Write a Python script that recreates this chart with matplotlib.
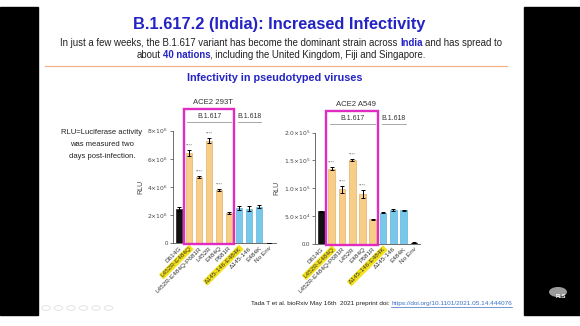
import numpy as np
import matplotlib
matplotlib.use("Agg")
import matplotlib.pyplot as plt
import matplotlib.transforms as mtransforms
from matplotlib.patches import Rectangle, Circle

plt.rcParams['font.family'] = ['Liberation Sans', 'DejaVu Sans']

W, H = 580, 326

variants = ['D614G', 'L452R-E484Q', 'L452R-E484Q-P681R', 'L452R', 'E484Q', 'P681R',
            'Δ145-146-E484K', 'Δ145-146', 'E484K', 'No Env']
highlighted = ['L452R-E484Q', 'Δ145-146-E484K']
lineage = ['ref', 'B.1.617', 'B.1.617', 'B.1.617', 'B.1.617', 'B.1.617',
           'B.1.618', 'B.1.618', 'B.1.618', 'ref']
stars = ['', '****', '****', '****', '****', '', '', '', '', '']

rlu_293t = [2.43e6, 6.4e6, 4.7e6, 7.3e6, 3.8e6, 2.15e6, 2.5e6, 2.45e6, 2.6e6, 0.03e6]
err_293t = [0.15e6, 0.22e6, 0.06e6, 0.15e6, 0.08e6, 0.05e6, 0.16e6, 0.16e6, 0.12e6, 0.0]

rlu_a549 = [5.85e4, 1.35e5, 0.98e5, 1.51e5, 0.89e5, 0.44e5, 0.56e5, 0.61e5, 0.60e5, 0.2e4]
err_a549 = [1.0e3, 2.5e3, 6.0e3, 2.5e3, 7.0e3, 1.0e3, 1.5e3, 1.5e3, 1.0e3, 0.8e3]

yt_293t = [0, 2e6, 4e6, 6e6, 8e6]
yl_293t = ['0', r'$2{\times}10^6$', r'$4{\times}10^6$', r'$6{\times}10^6$', r'$8{\times}10^6$']
yt_a549 = [0, 5e4, 1e5, 1.5e5, 2e5]
yl_a549 = ['0.0', r'$5.0{\times}10^4$', r'$1.0{\times}10^5$', r'$1.5{\times}10^5$', r'$2.0{\times}10^5$']

colors = {'ref': '#111111', 'B.1.617': '#f8cd88', 'B.1.618': '#78c8ec'}
edges = {'ref': '#000000', 'B.1.617': '#d9a550', 'B.1.618': '#4aa6d0'}
blue = '#2424c4'
magenta = '#e02cc0'


def box(l, t, r, b):
    return [l / W, 1 - b / H, (r - l) / W, (b - t) / H]


def fx(x):
    return x / W


def fy(y):
    return 1 - y / H


fig = plt.figure(figsize=(W / 100, H / 100), dpi=100)
fig.patch.set_facecolor('white')

# bordas pretas da captura de tela
fig.patches.append(Rectangle((0, fy(315)), fx(38), fy(7) - fy(315), transform=fig.transFigure,
                             color='black', zorder=0))
fig.patches.append(Rectangle((fx(524), fy(315)), 1 - fx(524), fy(7) - fy(315),
                             transform=fig.transFigure, color='black', zorder=0))

renderer = fig.canvas.get_renderer()


def rich_line(parts, xc, y, size):
    # parts: (texto, negrito, cor)
    probe = fig.text(0, 0, 'a a', fontsize=size)
    w2 = probe.get_window_extent(renderer).width
    probe.set_text('aa')
    space = w2 - probe.get_window_extent(renderer).width
    probe.remove()
    items = []
    total = 0
    for txt, bold, col in parts:
        lead = len(txt) - len(txt.lstrip(' '))
        trail = len(txt) - len(txt.rstrip(' '))
        t = fig.text(0, fy(y), txt.strip(' '), fontsize=size, color=col,
                     fontweight='bold' if bold else 'normal', va='center', ha='left')
        w = t.get_window_extent(renderer).width
        items.append((t, lead * space, w, trail * space))
        total += lead * space + w + trail * space
    x = xc - total / 2
    for t, lead, w, trail in items:
        x += lead
        t.set_x(fx(x))
        x += w + trail


fig.text(fx(279), fy(25), 'B.1.617.2 (India): Increased Infectivity', fontsize=11.8,
         fontweight='bold', color=blue, ha='center', va='center')
rich_line([('In just a few weeks, the B.1.617 variant has become the dominant strain across ', False, '#222222'),
           ('India', True, blue),
           (' and has spread to', False, '#222222')], 281, 43.5, 6.9)
rich_line([('about ', False, '#222222'), ('40 nations', True, blue),
           (', including the United Kingdom, Fiji and Singapore.', False, '#222222')], 281, 55, 6.9)
fig.add_artist(plt.Line2D([fx(45), fx(507)], [fy(66), fy(66)], color='#f4b48a', lw=0.9))
fig.text(fx(275), fy(78), 'Infectivity in pseudotyped viruses', fontsize=7.8,
         fontweight='bold', color=blue, ha='center', va='center')

for i, line in enumerate(['RLU=Luciferase activity', 'was measured two', 'days post-infection.']):
    fig.text(fx(102), fy(132.5 + 12.2 * i), line, fontsize=5.5, color='#222222',
             ha='center', va='center')


def draw_panel(rect, xlim, values, errs, yt, yl, title):
    ax = fig.add_axes(rect)
    x = np.arange(len(variants))
    cols = [colors[g] for g in lineage]
    eds = [edges[g] for g in lineage]
    ax.bar(x, values, width=0.65, color=cols, edgecolor=eds, linewidth=0.4, zorder=2)
    ax.errorbar(x, values, yerr=errs, fmt='none', ecolor='black', elinewidth=0.7,
                capsize=1.6, capthick=0.7, zorder=3)
    for i, s in enumerate(stars):
        if s:
            ax.text(x[i], values[i] + errs[i] + yt[-1] * 0.02, s, ha='center', va='bottom',
                    fontsize=3.2, color='#666666')
    ax.set_xlim(*xlim)
    ax.set_ylim(0, yt[-1])
    ax.set_yticks(yt)
    ax.set_yticklabels(yl, fontsize=4.3, color='#444444')
    ax.set_xticks(x)
    ax.set_xticklabels(variants, rotation=45, ha='right', rotation_mode='anchor',
                       fontsize=4.6, color='#333333')
    for lab in ax.get_xticklabels():
        if lab.get_text() in highlighted:
            lab.set_bbox(dict(facecolor='#f5e21a', edgecolor='none', pad=0.6))
    ax.tick_params(axis='x', length=0, pad=2)
    ax.tick_params(axis='y', length=2, width=0.5, pad=1.5, colors='#444444')
    for sp in ['top', 'right']:
        ax.spines[sp].set_visible(False)
    for sp in ['left', 'bottom']:
        ax.spines[sp].set_linewidth(0.6)
        ax.spines[sp].set_color('#555555')
    ax.set_ylabel('RLU', fontsize=5, color='#444444', labelpad=2)
    ax.patch.set_alpha(0)

    tr = mtransforms.blended_transform_factory(ax.transData, ax.transAxes)
    # caixa magenta em volta da linhagem B.1.617
    ax.add_patch(Rectangle((0.45, -0.01), 5.05, 1.205, transform=tr, fill=False,
                           edgecolor=magenta, lw=1.7, clip_on=False, zorder=4))
    ax.plot([0.8, 5.2], [1.08, 1.08], transform=tr, color='#999999', lw=0.6, clip_on=False)
    ax.text(3.0, 1.13, 'B.1.617', transform=tr, ha='center', va='center', fontsize=5,
            color='#333333')
    ax.plot([5.85, 8.2], [1.08, 1.08], transform=tr, color='#999999', lw=0.6, clip_on=False)
    ax.text(7.0, 1.13, 'B.1.618', transform=tr, ha='center', va='center', fontsize=5,
            color='#333333')
    ax.text(3.4, 1.25, title, transform=tr, ha='center', va='center', fontsize=5.6,
            color='#333333')
    return ax


draw_panel(box(173, 130.7, 276, 243), (-0.6, 9.7), rlu_293t, err_293t, yt_293t, yl_293t,
           'ACE2 293T')
draw_panel(box(315, 132.7, 420, 243.7), (-0.63, 9.6), rlu_a549, err_a549, yt_a549, yl_a549,
           'ACE2 A549')

# rodape com a referencia
cite = fig.text(fx(251), fy(303), 'Tada T et al. bioRxiv May 16th  2021 preprint doi: ',
                fontsize=4.6, color='#222222', ha='left', va='center')
wc = cite.get_window_extent(renderer).width
link = fig.text(fx(251 + wc), fy(303), 'https://doi.org/10.1101/2021.05.14.444076',
                fontsize=4.6, color='#3a6fc8', ha='left', va='center')
link_w = link.get_window_extent(renderer).width
fig.add_artist(plt.Line2D([fx(251 + wc), fx(251 + wc + link_w)], [fy(306.5), fy(306.5)],
                          color='#3a6fc8', lw=0.5))

# controles do slideshow e logo
for k in range(6):
    fig.patches.append(Circle((fx(46 + 12.5 * k), fy(308)), 4.2 / W, transform=fig.transFigure,
                              facecolor='none', edgecolor='#e6e6e6', lw=0.8))
fig.patches.append(Circle((fx(558), fy(292)), 9 / W, transform=fig.transFigure,
                          facecolor='#9a9a9a', edgecolor='none'))
fig.text(fx(561), fy(296), 'FLS', fontsize=4, color='white', ha='center', va='center',
         fontweight='bold')

fig.savefig('out.png', dpi=100)
